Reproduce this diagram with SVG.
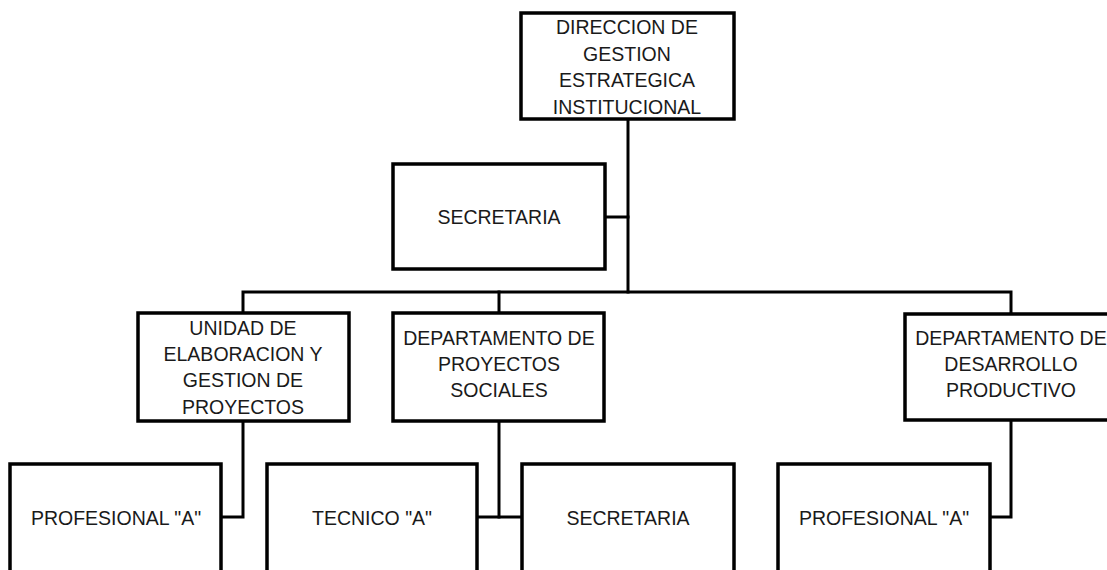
<svg xmlns="http://www.w3.org/2000/svg" width="1107" height="570" viewBox="0 0 1107 570">
<style>
.box{fill:#fff;stroke:#000;stroke-width:3.5}
.ln{fill:none;stroke:#000;stroke-width:3;stroke-linecap:square;stroke-linejoin:miter}
text{font-family:"Liberation Sans",Arial,sans-serif;font-size:19.5px;fill:#1a1a1a;text-anchor:middle}
</style>
<rect width="1107" height="570" fill="#fff"/>
<g id="connectors">
<path class="ln" d="M628,119 V292"/>
<path class="ln" d="M605,217 H628"/>
<path class="ln" d="M243,313 V292 H1011 V314"/>
<path class="ln" d="M499,292 V313"/>
<path class="ln" d="M243,421 V517 H221"/>
<path class="ln" d="M499,421 V517"/>
<path class="ln" d="M477,517 H522"/>
<path class="ln" d="M1011,420 V517 H990"/>
</g>
<g id="n-direccion">
<rect class="box" x="521" y="13" width="213" height="106"/>
<text x="627" y="34">DIRECCION DE</text>
<text x="627" y="60.5">GESTION</text>
<text x="627" y="87">ESTRATEGICA</text>
<text x="627" y="113.5">INSTITUCIONAL</text>
</g>
<g id="n-secretaria1">
<rect class="box" x="393" y="164" width="212" height="105"/>
<text x="499" y="224">SECRETARIA</text>
</g>
<g id="n-unidad">
<rect class="box" x="138" y="313" width="211" height="108"/>
<text x="243" y="334.5">UNIDAD DE</text>
<text x="243" y="360.5">ELABORACION Y</text>
<text x="243" y="387">GESTION DE</text>
<text x="243" y="413.5">PROYECTOS</text>
</g>
<g id="n-dep-sociales">
<rect class="box" x="393" y="313" width="211" height="108"/>
<text x="499" y="344.5">DEPARTAMENTO DE</text>
<text x="499" y="370.5">PROYECTOS</text>
<text x="499" y="396.5">SOCIALES</text>
</g>
<g id="n-dep-productivo">
<rect class="box" x="905" y="314" width="212" height="106"/>
<text x="1011" y="344.5">DEPARTAMENTO DE</text>
<text x="1011" y="370.5">DESARROLLO</text>
<text x="1011" y="396.5">PRODUCTIVO</text>
</g>
<g id="n-profesional1">
<rect class="box" x="10" y="464" width="211" height="116"/>
<text x="116" y="525">PROFESIONAL "A"</text>
</g>
<g id="n-tecnico">
<rect class="box" x="267" y="464" width="210" height="116"/>
<text x="372" y="525">TECNICO "A"</text>
</g>
<g id="n-secretaria2">
<rect class="box" x="522" y="464" width="212" height="116"/>
<text x="628" y="525">SECRETARIA</text>
</g>
<g id="n-profesional2">
<rect class="box" x="778" y="464" width="212" height="116"/>
<text x="884" y="525">PROFESIONAL "A"</text>
</g>
</svg>
